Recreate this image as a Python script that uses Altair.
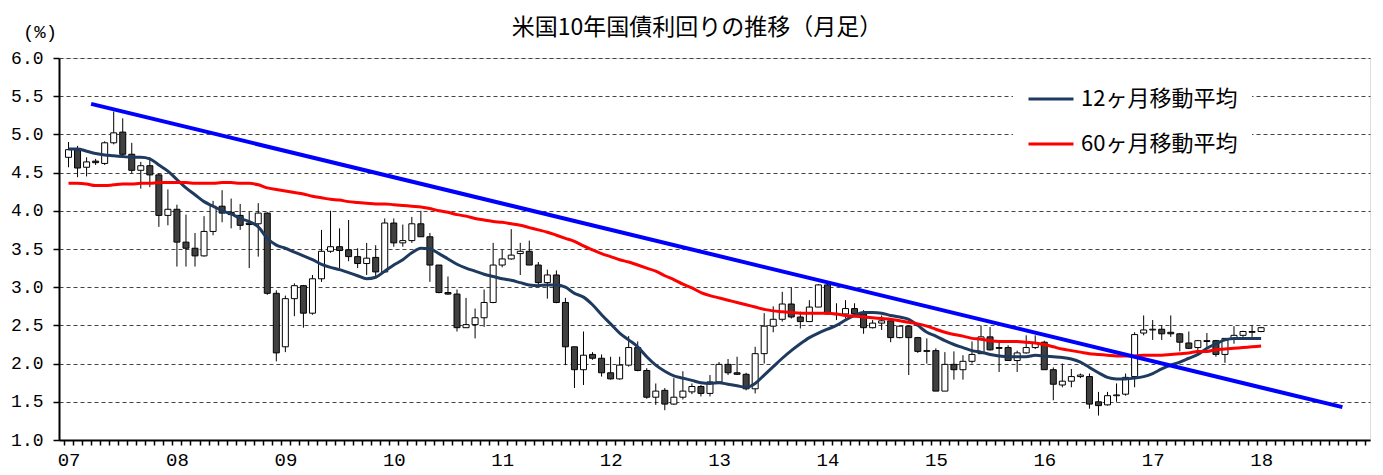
import json
import altair as alt
import pandas as pd

TITLE = "米国10年国債利回りの推移（月足）"
Y_UNIT = "(%)"
YEAR_LABELS = ["07", "08", "09", "10", "11", "12", "13", "14", "15", "16", "17", "18"]
Y_TICKS = [1.0, 1.5, 2.0, 2.5, 3.0, 3.5, 4.0, 4.5, 5.0, 5.5, 6.0]
SERIES_NAMES = ["12ヶ月移動平均", "60ヶ月移動平均"]
SERIES_COLORS = ["#1F3A5F", "#FF0000"]

# monthly candles, Jan 2007 .. Jan 2018
OPEN = [
    4.70, 4.80, 4.57, 4.65, 4.62, 4.89, 5.03, 4.74, 4.53, 4.59, 4.47, 3.94,
    4.02, 3.59, 3.51, 3.41, 3.73, 4.06, 3.98, 3.94, 3.84, 3.83, 3.97, 2.92,
    2.22, 2.85, 3.02, 2.66, 3.11, 3.47, 3.53, 3.49, 3.40, 3.31, 3.39, 3.20,
    3.84, 3.58, 3.61, 3.83, 3.66, 3.29, 2.93, 2.91, 2.47, 2.51, 2.60, 2.80,
    3.29, 3.37, 3.44, 3.47, 3.29, 3.06, 3.16, 2.80, 2.22, 1.92, 2.12, 2.07,
    1.88, 1.80, 1.98, 2.21, 1.91, 1.56, 1.65, 1.47, 1.56, 1.63, 1.70, 1.61,
    1.76, 1.99, 1.88, 1.86, 1.67, 2.13, 2.49, 2.58, 2.78, 2.61, 2.55, 2.74,
    3.03, 2.65, 2.65, 2.72, 2.65, 2.47, 2.53, 2.56, 2.34, 2.49, 2.34, 2.16,
    2.17, 1.64, 1.99, 1.92, 2.03, 2.13, 2.35, 2.21, 2.21, 2.04, 2.14, 2.21,
    2.28, 1.92, 1.72, 1.77, 1.83, 1.83, 1.50, 1.46, 1.58, 1.60, 1.83, 2.40,
    2.44, 2.45, 2.41, 2.39, 2.27, 2.21, 2.30, 2.30, 2.12, 2.33, 2.37, 2.42,
    2.42,
]
HIGH = [
    4.90, 4.85, 4.70, 4.68, 4.91, 5.30, 5.21, 4.89, 4.64, 4.70, 4.49, 4.28,
    4.08, 3.95, 3.71, 3.93, 4.13, 4.27, 4.16, 4.09, 3.99, 4.10, 3.98, 2.96,
    2.89, 3.05, 3.03, 3.16, 3.75, 4.00, 3.77, 3.88, 3.51, 3.58, 3.55, 3.90,
    3.90, 3.82, 3.92, 4.00, 3.71, 3.29, 3.14, 2.97, 2.86, 2.72, 2.97, 3.58,
    3.49, 3.76, 3.58, 3.61, 3.33, 3.23, 3.22, 2.86, 2.22, 2.42, 2.15, 2.12,
    2.09, 2.09, 2.36, 2.29, 1.94, 1.74, 1.68, 1.81, 1.90, 1.74, 1.72, 1.85,
    2.02, 2.06, 2.09, 1.88, 2.22, 2.66, 2.75, 2.94, 3.00, 2.68, 2.83, 3.04,
    3.05, 2.79, 2.83, 2.79, 2.70, 2.57, 2.63, 2.59, 2.50, 2.50, 2.35, 2.33,
    2.20, 2.15, 2.16, 2.11, 2.29, 2.50, 2.48, 2.30, 2.24, 2.17, 2.37, 2.37,
    2.30, 1.95, 2.00, 1.93, 1.87, 1.87, 1.63, 1.63, 1.74, 1.87, 2.41, 2.63,
    2.57, 2.50, 2.63, 2.40, 2.42, 2.31, 2.40, 2.31, 2.33, 2.49, 2.43, 2.50,
    2.48,
]
LOW = [
    4.57, 4.44, 4.45, 4.60, 4.60, 4.87, 4.71, 4.49, 4.29, 4.31, 3.79, 3.81,
    3.27, 3.27, 3.27, 3.40, 3.68, 3.85, 3.77, 3.75, 3.25, 3.40, 2.90, 2.03,
    2.15, 2.62, 2.47, 2.64, 3.07, 3.45, 3.25, 3.34, 3.25, 3.16, 3.14, 3.19,
    3.53, 3.53, 3.58, 3.66, 3.07, 2.92, 2.90, 2.42, 2.47, 2.33, 2.48, 2.79,
    3.26, 3.36, 3.16, 3.29, 3.03, 2.85, 2.79, 1.98, 1.68, 1.72, 2.05, 1.83,
    1.79, 1.79, 1.96, 1.90, 1.54, 1.46, 1.39, 1.46, 1.53, 1.60, 1.57, 1.57,
    1.74, 1.85, 1.85, 1.65, 1.61, 2.00, 2.41, 2.55, 2.59, 2.46, 2.55, 2.74,
    2.64, 2.57, 2.59, 2.63, 2.39, 2.46, 2.44, 2.28, 2.33, 1.85, 2.14, 2.00,
    1.64, 1.64, 1.79, 1.79, 2.00, 2.13, 2.17, 1.89, 2.04, 1.89, 2.13, 2.19,
    1.92, 1.52, 1.69, 1.69, 1.81, 1.41, 1.32, 1.45, 1.50, 1.58, 1.69, 2.37,
    2.31, 2.31, 2.35, 2.16, 2.19, 2.14, 2.22, 2.09, 2.01, 2.26, 2.35, 2.35,
    2.41,
]
CLOSE = [
    4.80, 4.56, 4.64, 4.63, 4.89, 5.02, 4.74, 4.53, 4.59, 4.47, 3.94, 4.02,
    3.59, 3.51, 3.41, 3.73, 4.06, 3.97, 3.95, 3.81, 3.82, 3.97, 2.92, 2.14,
    2.85, 3.02, 2.66, 3.11, 3.47, 3.53, 3.48, 3.40, 3.31, 3.38, 3.20, 3.84,
    3.58, 3.61, 3.83, 3.66, 3.29, 2.93, 2.91, 2.47, 2.51, 2.60, 2.80, 3.29,
    3.37, 3.42, 3.47, 3.29, 3.06, 3.16, 2.80, 2.22, 1.92, 2.11, 2.07, 1.88,
    1.80, 1.98, 2.21, 1.91, 1.56, 1.64, 1.47, 1.56, 1.64, 1.70, 1.61, 1.76,
    1.99, 1.88, 1.86, 1.67, 2.13, 2.49, 2.58, 2.78, 2.61, 2.55, 2.74, 3.03,
    2.65, 2.64, 2.72, 2.65, 2.47, 2.53, 2.56, 2.34, 2.49, 2.34, 2.16, 2.17,
    1.64, 1.99, 1.92, 2.03, 2.12, 2.35, 2.18, 2.20, 2.04, 2.14, 2.21, 2.27,
    1.92, 1.73, 1.77, 1.83, 1.85, 1.47, 1.45, 1.58, 1.59, 1.82, 2.38, 2.44,
    2.45, 2.39, 2.39, 2.28, 2.20, 2.30, 2.29, 2.12, 2.33, 2.37, 2.42, 2.41,
    2.47,
]
MA12 = [
    4.81, 4.81, 4.78, 4.75, 4.73, 4.72, 4.71, 4.70, 4.70, 4.68, 4.60, 4.52,
    4.41, 4.30, 4.21, 4.12, 4.06, 4.00, 3.96, 3.90, 3.86, 3.79, 3.64, 3.55,
    3.51, 3.46, 3.41, 3.36, 3.30, 3.26, 3.23, 3.19, 3.15, 3.11, 3.13, 3.21,
    3.29, 3.36, 3.45, 3.51, 3.50, 3.44, 3.37, 3.30, 3.25, 3.21, 3.17, 3.14,
    3.11, 3.09, 3.06, 3.03, 3.02, 3.03, 3.03, 3.00, 2.92, 2.87, 2.77, 2.64,
    2.52, 2.40, 2.31, 2.22, 2.09, 1.98, 1.90, 1.84, 1.81, 1.78, 1.75, 1.74,
    1.75, 1.73, 1.71, 1.69, 1.74, 1.85, 1.96, 2.07, 2.17, 2.26, 2.34, 2.40,
    2.45, 2.50, 2.57, 2.63, 2.67, 2.67, 2.66, 2.63, 2.61, 2.58, 2.50, 2.41,
    2.36, 2.30, 2.25, 2.21, 2.17, 2.15, 2.12, 2.10, 2.09, 2.09, 2.09, 2.11,
    2.10, 2.09, 2.08, 2.06, 2.02, 1.95, 1.88, 1.82, 1.80, 1.80, 1.81, 1.83,
    1.87, 1.93, 1.98, 2.02, 2.07, 2.12, 2.20, 2.26, 2.31, 2.33, 2.33, 2.33,
    2.33,
]
MA60 = [
    4.36, 4.36, 4.35, 4.33, 4.33, 4.34, 4.35, 4.35, 4.36, 4.36, 4.37, 4.37,
    4.37, 4.37, 4.36, 4.36, 4.36, 4.37, 4.37, 4.36, 4.36, 4.34, 4.30, 4.28,
    4.26, 4.24, 4.22, 4.19, 4.17, 4.15, 4.14, 4.12, 4.11, 4.10, 4.09, 4.09,
    4.08, 4.07, 4.06, 4.05, 4.03, 4.00, 3.98, 3.95, 3.93, 3.90, 3.88, 3.86,
    3.85, 3.83, 3.81, 3.78, 3.75, 3.72, 3.68, 3.64, 3.60, 3.54, 3.49, 3.44,
    3.40, 3.36, 3.33, 3.29, 3.25, 3.21, 3.15, 3.10, 3.04, 2.99, 2.93, 2.89,
    2.86, 2.83, 2.80, 2.77, 2.74, 2.71, 2.69, 2.68, 2.67, 2.66, 2.66, 2.66,
    2.66, 2.65, 2.63, 2.62, 2.61, 2.60, 2.59, 2.58, 2.56, 2.54, 2.52, 2.49,
    2.45, 2.41, 2.38, 2.36, 2.33, 2.32, 2.30, 2.29, 2.29, 2.29, 2.28, 2.27,
    2.25, 2.22, 2.19, 2.17, 2.15, 2.13, 2.12, 2.11, 2.10, 2.10, 2.10, 2.11,
    2.11, 2.11, 2.12, 2.13, 2.14, 2.16, 2.16, 2.18, 2.19, 2.20, 2.21, 2.22,
    2.23,
]
# resistance trend line end points (month index, %)
TREND_X = [3.0, 141.5]
TREND_Y = [5.40, 1.43]

N_MONTHS = 144  # axis spans Jan 2007 .. Dec 2018

# ---------- tables ----------
n = len(CLOSE)
candles = pd.DataFrame({
    "t": [i + 0.5 for i in range(n)],
    "o": OPEN, "h": HIGH, "l": LOW, "c": CLOSE,
})
candles["top"] = candles[["o", "c"]].max(axis=1)
candles["bot"] = candles[["o", "c"]].min(axis=1)
candles["dir"] = ["up" if c >= o else "down" for o, c in zip(OPEN, CLOSE)]

ma_rows = []
for name, vals in zip(SERIES_NAMES, [MA12, MA60]):
    for i, v in enumerate(vals):
        ma_rows.append({"t": i + 0.5, "v": v, "series": name})
ma = pd.DataFrame(ma_rows)

trend = pd.DataFrame({"t": TREND_X, "v": TREND_Y})

# ---------- scales & axes (shared by every layer) ----------
xscale = alt.Scale(domain=[0, N_MONTHS], nice=False, zero=False)
yscale = alt.Scale(domain=[1.0, 6.0], nice=False, zero=False)

label_expr = (
    "datum.value % 12 == 0 && datum.value < " + str(12 * len(YEAR_LABELS))
    + " ? " + json.dumps(YEAR_LABELS) + "[datum.value / 12] : ''"
)

x_axis = alt.Axis(
    values=list(range(0, N_MONTHS + 1)),
    labelExpr=label_expr,
    labelOverlap=False,
    labelBound=False,
    labelFlush=False,
    labelOffset=4.6,
    labelPadding=5,
    labelFont="Liberation Mono",
    labelFontSize=19,
    labelColor="black",
    tickSize=5,
    tickWidth=1.5,
    tickColor="black",
    domainColor="black",
    domainWidth=2,
    grid=False,
    title=None,
)
y_axis = alt.Axis(
    values=Y_TICKS,
    format=".1f",
    labelOverlap=False,
    labelFont="Liberation Mono",
    labelFontSize=18,
    labelColor="black",
    labelPadding=10,
    tickSize=6,
    tickWidth=1.5,
    tickColor="black",
    domainColor="black",
    domainWidth=2,
    grid=True,
    gridDash=[4, 3],
    gridColor="#444444",
    gridWidth=1,
    title=None,
)

X = alt.X("t:Q", scale=xscale, axis=x_axis)


def Y(field):
    return alt.Y(field, scale=yscale, axis=y_axis)


wicks = alt.Chart(candles).mark_rule(color="black", strokeWidth=1).encode(
    x=X, y=Y("l:Q"), y2="h:Q",
)

bodies = alt.Chart(candles).mark_bar(size=6, stroke="black", strokeWidth=1).encode(
    x=X,
    y=Y("bot:Q"),
    y2="top:Q",
    fill=alt.Fill("dir:N", scale=alt.Scale(domain=["up", "down"], range=["white", "#404040"]), legend=None),
)

lines = alt.Chart(ma).mark_line(strokeWidth=3, interpolate="monotone").encode(
    x=X,
    y=Y("v:Q"),
    stroke=alt.Stroke(
        "series:N",
        scale=alt.Scale(domain=SERIES_NAMES, range=SERIES_COLORS),
        legend=alt.Legend(
            title=None,
            orient="none",
            legendX=954,
            legendY=3,
            symbolType="stroke",
            symbolSize=2025,
            symbolStrokeWidth=3,
            labelFont="Noto Sans CJK JP",
            labelFontSize=22,
            labelColor="black",
            labelOffset=6,
            fillColor="white",
            padding=14,
            rowPadding=10,
        ),
    ),
    detail="series:N",
)

trend_line = alt.Chart(trend).mark_line(color="#0000FF", strokeWidth=4).encode(
    x=X, y=Y("v:Q"),
)

title_text = alt.Chart(pd.DataFrame({"text": [TITLE]})).mark_text(
    font="Noto Sans CJK JP", fontSize=23, color="black", align="center", baseline="middle",
).encode(x=alt.value(638), y=alt.value(-30), text="text:N")

unit_text = alt.Chart(pd.DataFrame({"text": [Y_UNIT]})).mark_text(
    font="Liberation Mono", fontSize=19, color="black", align="center", baseline="middle",
).encode(x=alt.value(-19), y=alt.value(-26), text="text:N")

chart = alt.layer(wicks, bodies, lines, trend_line, title_text, unit_text).properties(
    width=1311,
    height=382,
    autosize=alt.AutoSizeParams(type="none"),
    padding={"left": 51, "top": 50, "right": 5, "bottom": 32},
).configure_view(stroke=None).configure(background="white")

chart.save("out.html", embed_options={"renderer": "svg", "actions": False})
